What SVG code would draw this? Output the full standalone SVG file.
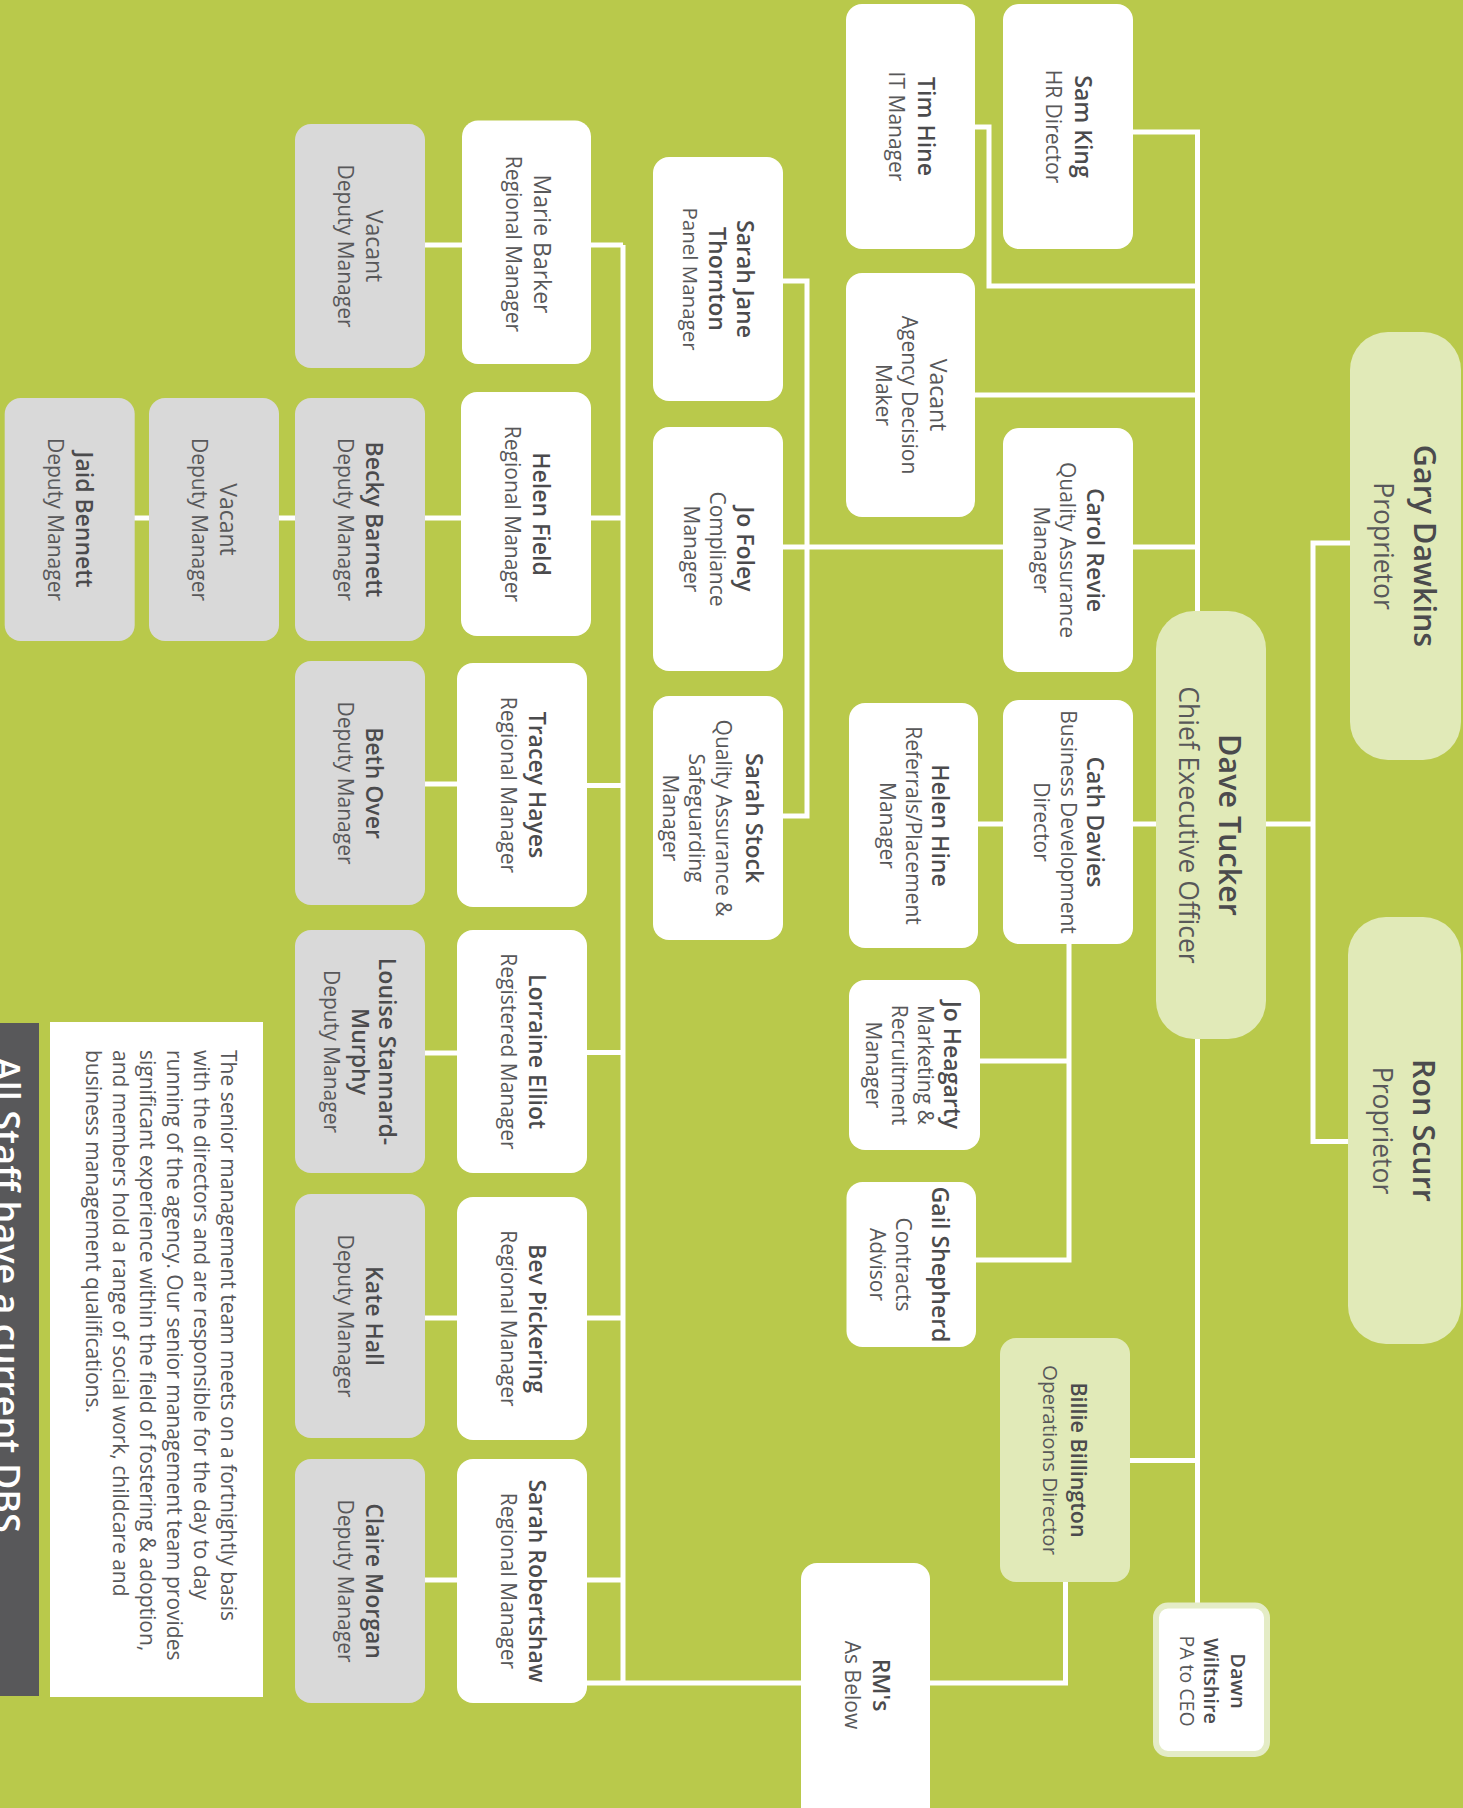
<svg xmlns="http://www.w3.org/2000/svg" width="1463" height="1808" viewBox="0 0 1463 1808">
<style>
text{font-family:"Open Sans","Liberation Sans",sans-serif;text-anchor:middle}
.w{fill:#ffffff}
.g{fill:#e1eab8}
.d{fill:#d9d9d9}
.n{font-size:23px;font-weight:600;fill:#4b4b4d}
.r{font-size:23px;font-weight:400;fill:#58585a}
.t{font-size:21px;font-weight:400;fill:#58585a}
.bn{font-size:30.5px;font-weight:600;fill:#4b4b4d}
.bt{font-size:26.5px;font-weight:400;fill:#58585a}
.conn path{stroke:#ffffff;stroke-width:5;fill:none;stroke-linejoin:miter}
.para{font-size:21px;fill:#58585a;text-anchor:start}
</style>
<rect x="0" y="0" width="1463" height="1808" fill="#b9c94b"/>

<g id="connectors" class="conn">
<path d="M1133 132 H1197.5 V1603"/>
<path d="M975 127 H989 V286 H1197.5"/>
<path d="M975 395 H1197.5"/>
<path d="M783 547 H1197.5"/>
<path d="M783 281 H807 V816 H783"/>
<path d="M978 824 H1313"/>
<path d="M1350 543 H1313 V1141.5 H1348"/>
<path d="M1069 944 V1260 H976"/>
<path d="M980 1061 H1069"/>
<path d="M1130 1460.5 H1197.5"/>
<path d="M1065.5 1582 V1683 H587"/>
<path d="M623 245 V1683"/>
<path d="M591 245 H623"/>
<path d="M591 518 H623"/>
<path d="M587 785.5 H623"/>
<path d="M587 1052.5 H623"/>
<path d="M587 1318 H623"/>
<path d="M587 1580 H623"/>
<path d="M425 245 H462"/>
<path d="M134 518 H461"/>
<path d="M425 784 H457"/>
<path d="M425 1053 H457"/>
<path d="M425 1318 H457"/>
<path d="M425 1580 H457"/>
</g>

<g id="gary-dawkins">
<rect class="g" x="1350" y="332" width="111" height="428" rx="38"/>
<text transform="translate(1405.5,546) rotate(90)"><tspan class="bn" x="0" y="-8">Gary Dawkins</tspan><tspan class="bt" x="0" y="32">Proprietor</tspan></text>
</g>
<g id="ron-scurr">
<rect class="g" x="1348" y="917" width="113" height="427" rx="38"/>
<text transform="translate(1404.5,1130.5) rotate(90)"><tspan class="bn" x="0" y="-8">Ron Scurr</tspan><tspan class="bt" x="0" y="32">Proprietor</tspan></text>
</g>
<g id="dave-tucker">
<rect class="g" x="1156" y="611" width="110" height="428" rx="38"/>
<text transform="translate(1211,825) rotate(90)"><tspan class="bn" x="0" y="-8">Dave Tucker</tspan><tspan class="bt" x="0" y="32">Chief Executive Officer</tspan></text>
</g>
<g id="sam-king">
<rect class="w" x="1003" y="4" width="130" height="245" rx="16"/>
<text transform="translate(1068,126.5) rotate(90)"><tspan class="n" x="0" y="-7">Sam King</tspan><tspan class="t" x="0" y="22">HR Director</tspan></text>
</g>
<g id="tim-hine">
<rect class="w" x="846" y="4" width="129" height="245" rx="16"/>
<text transform="translate(910.5,126.5) rotate(90)"><tspan class="n" x="0" y="-7">Tim Hine</tspan><tspan class="t" x="0" y="22">IT Manager</tspan></text>
</g>
<g id="vacant-agency-decision-maker">
<rect class="w" x="846" y="273" width="129" height="244" rx="16"/>
<text transform="translate(910.5,395) rotate(90)"><tspan class="r" x="0" y="-19">Vacant</tspan><tspan class="t" x="0" y="9">Agency Decision</tspan><tspan class="t" x="0" y="35">Maker</tspan></text>
</g>
<g id="carol-revie">
<rect class="w" x="1003" y="428" width="130" height="244" rx="16"/>
<text transform="translate(1068,550) rotate(90)"><tspan class="n" x="0" y="-19">Carol Revie</tspan><tspan class="t" x="0" y="8">Quality Assurance</tspan><tspan class="t" x="0" y="34">Manager</tspan></text>
</g>
<g id="cath-davies">
<rect class="w" x="1003" y="700" width="130" height="244" rx="16"/>
<text transform="translate(1068,822) rotate(90)"><tspan class="n" x="0" y="-19">Cath Davies</tspan><tspan class="t" x="0" y="7">Business Development</tspan><tspan class="t" x="0" y="34">Director</tspan></text>
</g>
<g id="helen-hine">
<rect class="w" x="849" y="703" width="129" height="245" rx="16"/>
<text transform="translate(913.5,825.5) rotate(90)"><tspan class="n" x="0" y="-18">Helen Hine</tspan><tspan class="t" x="0" y="8">Referrals/Placement</tspan><tspan class="t" x="0" y="34">Manager</tspan></text>
</g>
<g id="jo-heagarty">
<rect class="w" x="849" y="980" width="131" height="170" rx="16"/>
<text transform="translate(914.5,1065) rotate(90)"><tspan class="n" x="0" y="-29">Jo Heagarty</tspan><tspan class="t" x="0" y="-3">Marketing &amp;</tspan><tspan class="t" x="0" y="23">Recruitment</tspan><tspan class="t" x="0" y="49">Manager</tspan></text>
</g>
<g id="gail-shepherd">
<rect class="w" x="846.5" y="1182" width="129.5" height="165" rx="16"/>
<text transform="translate(911,1264.5) rotate(90)"><tspan class="n" x="0" y="-21">Gail Shepherd</tspan><tspan class="t" x="0" y="15">Contracts</tspan><tspan class="t" x="0" y="41">Advisor</tspan></text>
</g>
<g id="billie-billington">
<rect class="g" x="1000" y="1338" width="130" height="244" rx="16"/>
<text transform="translate(1065,1460) rotate(90)"><tspan class="n" x="0" y="-6" style="font-size:21.5px">Billie Billington</tspan><tspan class="t" x="0" y="22" style="font-size:20.5px">Operations Director</tspan></text>
</g>
<g id="dawn-wiltshire">
<rect x="1156" y="1605.5" width="111" height="148.5" rx="12" fill="#ffffff" stroke="#e4ecc6" stroke-width="6"/>
<text transform="translate(1211.5,1681) rotate(90)"><tspan class="n" x="0" y="-19.5" style="font-size:20px">Dawn</tspan><tspan class="n" x="0" y="7.5" style="font-size:20px">Wiltshire</tspan><tspan class="t" x="0" y="31.5" style="font-size:19.5px">PA to CEO</tspan></text>
</g>
<g id="rms">
<rect class="w" x="801" y="1563" width="129" height="260" rx="16"/>
<text transform="translate(865.5,1685) rotate(90)"><tspan class="n" x="0" y="-7">RM's</tspan><tspan class="t" x="0" y="21">As Below</tspan></text>
</g>
<g id="sarah-jane-thornton">
<rect class="w" x="653" y="157" width="130" height="244" rx="16"/>
<text transform="translate(718,279) rotate(90)"><tspan class="n" x="0" y="-19">Sarah Jane</tspan><tspan class="n" x="0" y="9">Thornton</tspan><tspan class="t" x="0" y="35" style="font-size:20.5px">Panel Manager</tspan></text>
</g>
<g id="jo-foley">
<rect class="w" x="653" y="427" width="130" height="244" rx="16"/>
<text transform="translate(718,549) rotate(90)"><tspan class="n" x="0" y="-19">Jo Foley</tspan><tspan class="t" x="0" y="8">Compliance</tspan><tspan class="t" x="0" y="34">Manager</tspan></text>
</g>
<g id="sarah-stock">
<rect class="w" x="653" y="696" width="130" height="244" rx="16"/>
<text transform="translate(718,818) rotate(90)"><tspan class="n" x="0" y="-28">Sarah Stock</tspan><tspan class="t" x="0" y="2">Quality Assurance &amp;</tspan><tspan class="t" x="0" y="29">Safeguarding</tspan><tspan class="t" x="0" y="55">Manager</tspan></text>
</g>
<g id="marie-barker">
<rect class="w" x="462" y="120.5" width="129" height="243.5" rx="16"/>
<text transform="translate(526.5,244) rotate(90)"><tspan class="r" x="0" y="-7">Marie Barker</tspan><tspan class="t" x="0" y="21">Regional Manager</tspan></text>
</g>
<g id="helen-field">
<rect class="w" x="461" y="392" width="130" height="244" rx="16"/>
<text transform="translate(526,514) rotate(90)"><tspan class="n" x="0" y="-7">Helen Field</tspan><tspan class="t" x="0" y="21">Regional Manager</tspan></text>
</g>
<g id="tracey-hayes">
<rect class="w" x="457" y="663" width="130" height="244" rx="16"/>
<text transform="translate(522,785) rotate(90)"><tspan class="n" x="0" y="-7">Tracey Hayes</tspan><tspan class="t" x="0" y="21">Regional Manager</tspan></text>
</g>
<g id="lorraine-elliot">
<rect class="w" x="457" y="930" width="130" height="243" rx="16"/>
<text transform="translate(522,1051.5) rotate(90)"><tspan class="n" x="0" y="-7">Lorraine Elliot</tspan><tspan class="t" x="0" y="21">Registered Manager</tspan></text>
</g>
<g id="bev-pickering">
<rect class="w" x="457" y="1197" width="130" height="243" rx="16"/>
<text transform="translate(522,1318.5) rotate(90)"><tspan class="n" x="0" y="-7">Bev Pickering</tspan><tspan class="t" x="0" y="21">Regional Manager</tspan></text>
</g>
<g id="sarah-robertshaw">
<rect class="w" x="457" y="1459" width="130" height="244" rx="16"/>
<text transform="translate(522,1581) rotate(90)"><tspan class="n" x="0" y="-7">Sarah Robertshaw</tspan><tspan class="t" x="0" y="21">Regional Manager</tspan></text>
</g>
<g id="vacant-deputy-1">
<rect class="d" x="295" y="124" width="130" height="244" rx="16"/>
<text transform="translate(360,246) rotate(90)"><tspan class="r" x="0" y="-6">Vacant</tspan><tspan class="t" x="0" y="22">Deputy Manager</tspan></text>
</g>
<g id="becky-barnett">
<rect class="d" x="295" y="398" width="130" height="243" rx="16"/>
<text transform="translate(360,519.5) rotate(90)"><tspan class="n" x="0" y="-6">Becky Barnett</tspan><tspan class="t" x="0" y="22">Deputy Manager</tspan></text>
</g>
<g id="vacant-deputy-2">
<rect class="d" x="149" y="398" width="130" height="243" rx="16"/>
<text transform="translate(214,519.5) rotate(90)"><tspan class="r" x="0" y="-6">Vacant</tspan><tspan class="t" x="0" y="22">Deputy Manager</tspan></text>
</g>
<g id="jaid-bennett">
<rect class="d" x="4.7" y="398" width="130" height="243" rx="16"/>
<text transform="translate(69.7,519.5) rotate(90)"><tspan class="n" x="0" y="-6">Jaid Bennett</tspan><tspan class="t" x="0" y="22">Deputy Manager</tspan></text>
</g>
<g id="beth-over">
<rect class="d" x="295" y="661" width="130" height="244" rx="16"/>
<text transform="translate(360,783) rotate(90)"><tspan class="n" x="0" y="-6">Beth Over</tspan><tspan class="t" x="0" y="22">Deputy Manager</tspan></text>
</g>
<g id="louise-stannard-murphy">
<rect class="d" x="295" y="930" width="130" height="243" rx="16"/>
<text transform="translate(360,1051.5) rotate(90)"><tspan class="n" x="0" y="-19">Louise Stannard-</tspan><tspan class="n" x="0" y="8">Murphy</tspan><tspan class="t" x="0" y="36">Deputy Manager</tspan></text>
</g>
<g id="kate-hall">
<rect class="d" x="295" y="1194" width="130" height="244" rx="16"/>
<text transform="translate(360,1316) rotate(90)"><tspan class="n" x="0" y="-6">Kate Hall</tspan><tspan class="t" x="0" y="22">Deputy Manager</tspan></text>
</g>
<g id="claire-morgan">
<rect class="d" x="295" y="1459" width="130" height="244" rx="16"/>
<text transform="translate(360,1581) rotate(90)"><tspan class="n" x="0" y="-6">Claire Morgan</tspan><tspan class="t" x="0" y="22">Deputy Manager</tspan></text>
</g>

<g id="note">
<rect x="50" y="1022" width="213" height="675" fill="#ffffff"/>
<text class="para" transform="translate(221,1050) rotate(90)"><tspan x="0" y="0">The senior management team meets on a fortnightly basis</tspan><tspan x="0" y="27">with the directors and are responsible for the day to day</tspan><tspan x="0" y="54">running of the agency. Our senior management team provides</tspan><tspan x="0" y="81">significant experience within the field of fostering &amp; adoption,</tspan><tspan x="0" y="108">and members hold a range of social work, childcare and</tspan><tspan x="0" y="135">business management qualifications.</tspan></text>
</g>
<g id="dbs-banner">
<rect x="0" y="1023" width="39" height="673" fill="#58585a"/>
<text transform="translate(-6,1057) rotate(90)" style="text-anchor:start;font-size:36px;font-weight:600;fill:#ffffff">All Staff have a current DBS</text>
</g>
</svg>
